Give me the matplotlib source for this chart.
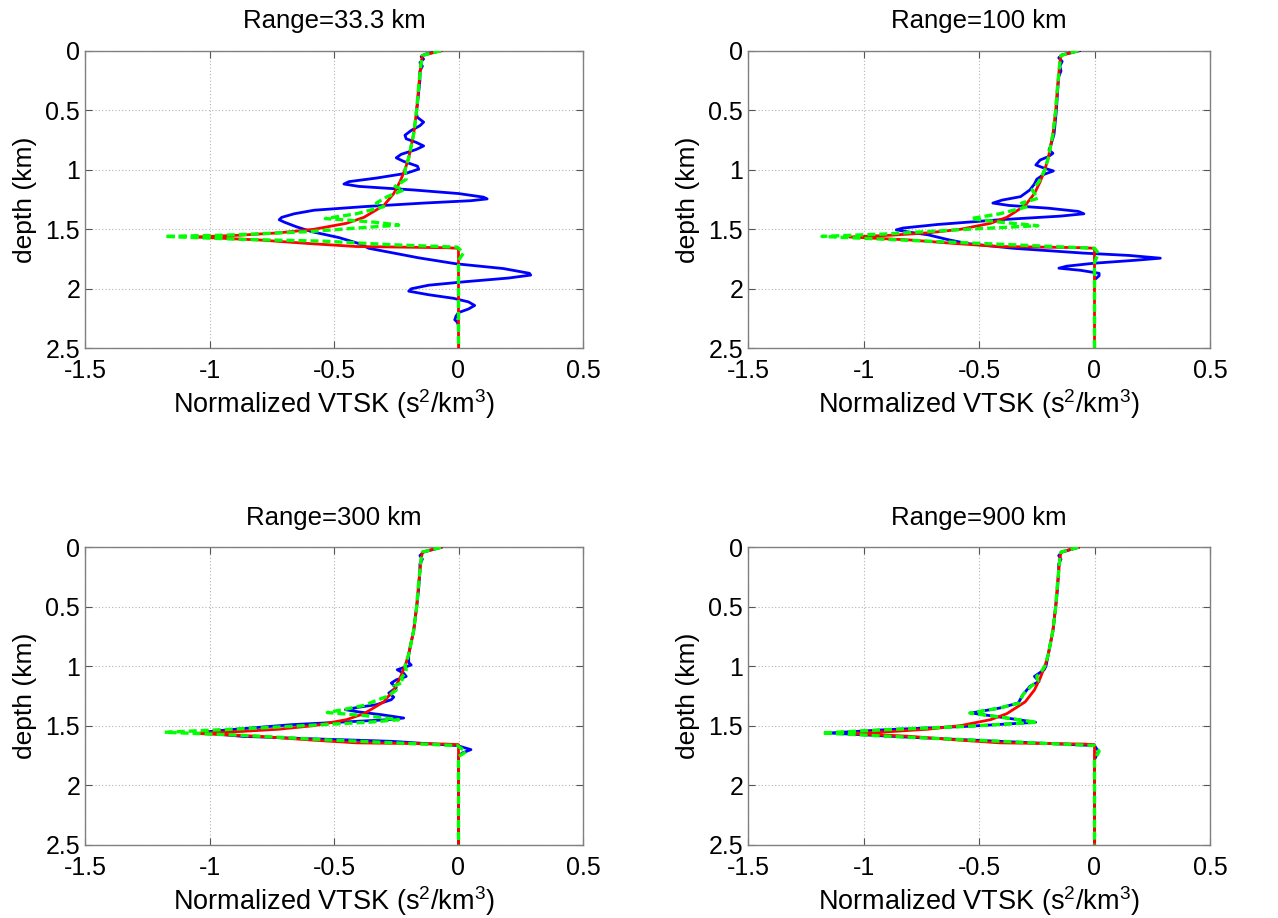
import matplotlib
matplotlib.use("Agg")
import matplotlib.pyplot as plt

plt.rcParams['font.family'] = ['Liberation Sans', 'DejaVu Sans']
plt.rcParams['mathtext.fontset'] = 'custom'
plt.rcParams['mathtext.rm'] = 'Liberation Sans'
plt.rcParams['mathtext.it'] = 'Liberation Sans'
plt.rcParams['axes.unicode_minus'] = False

# ---------------- data ----------------
titles = ["Range=33.3 km", "Range=100 km", "Range=300 km", "Range=900 km"]
x_ticks = [-1.5, -1, -0.5, 0, 0.5]
x_tick_labels = ["-1.5", "-1", "-0.5", "0", "0.5"]
y_ticks = [0, 0.5, 1, 1.5, 2, 2.5]
y_tick_labels = ["0", "0.5", "1", "1.5", "2", "2.5"]

# red (reference) kernel, same in every panel
red_depth = [0.00, 0.04, 0.10, 0.20, 0.30, 0.50, 0.70, 0.90, 1.00, 1.10, 1.20, 1.30,
             1.40, 1.45, 1.50, 1.53, 1.55, 1.565, 1.59, 1.62, 1.645, 1.655, 1.66, 2.50]
red_vtsk = [-0.07, -0.145, -0.15, -0.155, -0.16, -0.168, -0.18, -0.20, -0.215, -0.235, -0.26, -0.30,
            -0.38, -0.45, -0.58, -0.72, -0.88, -1.06, -0.80, -0.60, -0.41, -0.05, 0.0, 0.0]

# Range = 33.3 km
blue1_depth = [0.00, 0.03, 0.05, 0.07, 0.10, 0.13, 0.17, 0.25, 0.35, 0.45, 0.52, 0.56, 0.60, 0.63,
               0.67, 0.71, 0.74, 0.77, 0.80, 0.83, 0.87, 0.90, 0.93, 0.97, 0.995, 1.03, 1.07,
               1.10, 1.12, 1.14, 1.17, 1.20, 1.23, 1.245, 1.26, 1.28, 1.31, 1.34, 1.37, 1.40,
               1.42, 1.44, 1.48, 1.52, 1.57, 1.62, 1.66, 1.70, 1.74, 1.79, 1.83, 1.87, 1.885,
               1.91, 1.94, 1.97, 2.00, 2.02, 2.05, 2.08, 2.11, 2.14, 2.17, 2.20, 2.23, 2.26,
               2.28, 2.31]
blue1_vtsk = [-0.07, -0.135, -0.15, -0.14, -0.155, -0.145, -0.155, -0.155, -0.16, -0.165, -0.17,
              -0.165, -0.14, -0.155, -0.19, -0.215, -0.21, -0.17, -0.14, -0.17, -0.23, -0.25,
              -0.22, -0.165, -0.16, -0.21, -0.33, -0.44, -0.46, -0.40, -0.18, 0.0, 0.10, 0.115,
              0.05, -0.14, -0.38, -0.58, -0.66, -0.71, -0.72, -0.70, -0.65, -0.59, -0.48, -0.40,
              -0.36, -0.26, -0.16, -0.01, 0.18, 0.285, 0.29, 0.20, 0.03, -0.12, -0.19, -0.20,
              -0.12, -0.02, 0.04, 0.065, 0.04, 0.0, -0.01, -0.015, -0.005, 0.0]
green1_depth = [0.00, 0.04, 0.10, 0.20, 0.30, 0.50, 0.70, 0.90, 1.00, 1.08, 1.14, 1.17, 1.23,
                1.28, 1.31, 1.37, 1.41, 1.44, 1.465, 1.49, 1.52, 1.55, 1.56, 1.585, 1.60, 1.63,
                1.65, 1.70, 1.76, 2.50]
green1_vtsk = [-0.07, -0.145, -0.15, -0.155, -0.16, -0.168, -0.18, -0.20, -0.215, -0.21, -0.255,
               -0.22, -0.29, -0.33, -0.30, -0.41, -0.535, -0.34, -0.24, -0.41, -0.60, -0.94,
               -1.18, -0.87, -0.54, -0.27, -0.005, 0.02, 0.0, 0.0]

# Range = 100 km
blue2_depth = [0.00, 0.035, 0.06, 0.09, 0.13, 0.17, 0.22, 0.35, 0.50, 0.70, 0.80, 0.834, 0.862,
               0.89, 0.918, 0.96, 0.985, 1.01, 1.04, 1.08, 1.12, 1.17, 1.226, 1.255, 1.28,
               1.30, 1.323, 1.35, 1.37, 1.39, 1.42, 1.46, 1.49, 1.505, 1.525, 1.547, 1.589,
               1.62, 1.66, 1.70, 1.72, 1.743, 1.76, 1.785, 1.81, 1.827, 1.845, 1.87, 1.89,
               1.925, 1.96]
blue2_vtsk = [-0.065, -0.14, -0.155, -0.14, -0.15, -0.145, -0.155, -0.16, -0.165, -0.175, -0.19,
              -0.197, -0.18, -0.20, -0.235, -0.254, -0.22, -0.178, -0.22, -0.25, -0.26, -0.28,
              -0.32, -0.40, -0.44, -0.37, -0.20, -0.07, -0.046, -0.15, -0.41, -0.68, -0.83,
              -0.858, -0.80, -0.72, -0.63, -0.55, -0.35, -0.05, 0.15, 0.285, 0.18, 0.0, -0.12,
              -0.154, -0.06, 0.02, 0.02, 0.0, 0.0]
green2_depth = [0.00, 0.04, 0.10, 0.20, 0.30, 0.50, 0.70, 0.90, 1.00, 1.10, 1.17, 1.24, 1.28,
                1.31, 1.37, 1.41, 1.44, 1.47, 1.50, 1.54, 1.56, 1.59, 1.62, 1.66, 1.70, 1.78,
                2.50]
green2_vtsk = [-0.07, -0.145, -0.15, -0.155, -0.16, -0.168, -0.18, -0.20, -0.215, -0.24, -0.27,
               -0.245, -0.316, -0.29, -0.41, -0.535, -0.41, -0.245, -0.55, -0.91, -1.18, -0.84,
               -0.48, 0.0, 0.017, 0.0, 0.0]

# Range = 300 km
blue3_depth = [0.00, 0.04, 0.07, 0.10, 0.14, 0.20, 0.35, 0.50, 0.70, 0.90, 0.97, 0.99, 1.03,
               1.06, 1.086, 1.115, 1.142, 1.18, 1.226, 1.26, 1.282, 1.324, 1.345, 1.366, 1.385,
               1.408, 1.436, 1.45, 1.464, 1.492, 1.534, 1.555, 1.575, 1.59, 1.61, 1.632, 1.668,
               1.702, 1.73, 1.758, 2.50]
blue3_vtsk = [-0.07, -0.14, -0.155, -0.145, -0.155, -0.155, -0.16, -0.168, -0.18, -0.20, -0.20,
              -0.19, -0.246, -0.22, -0.21, -0.25, -0.27, -0.25, -0.28, -0.26, -0.27, -0.33,
              -0.40, -0.454, -0.40, -0.31, -0.22, -0.28, -0.41, -0.67, -0.915, -1.03, -0.95,
              -0.87, -0.60, -0.27, -0.005, 0.05, 0.015, 0.0, 0.0]
green3_depth = [0.00, 0.04, 0.10, 0.20, 0.30, 0.50, 0.70, 0.90, 1.00, 1.03, 1.06, 1.10, 1.13,
                1.17, 1.20, 1.25, 1.28, 1.33, 1.36, 1.39, 1.415, 1.45, 1.47, 1.49, 1.52, 1.556,
                1.58, 1.62, 1.668, 1.72, 1.76, 2.50]
green3_vtsk = [-0.07, -0.145, -0.15, -0.155, -0.16, -0.168, -0.18, -0.20, -0.215, -0.21, -0.215,
               -0.23, -0.22, -0.26, -0.25, -0.28, -0.32, -0.38, -0.45, -0.527, -0.38, -0.24,
               -0.35, -0.53, -0.80, -1.18, -0.88, -0.53, -0.005, 0.03, 0.0, 0.0]

# Range = 900 km
blue4_depth = [0.00, 0.04, 0.07, 0.10, 0.14, 0.20, 0.35, 0.50, 0.70, 0.90, 1.00, 1.03, 1.086,
               1.128, 1.17, 1.24, 1.31, 1.352, 1.394, 1.436, 1.472, 1.506, 1.534, 1.562, 1.596,
               1.632, 1.668, 1.716, 1.786, 2.50]
blue4_vtsk = [-0.07, -0.14, -0.155, -0.145, -0.155, -0.155, -0.16, -0.168, -0.18, -0.20, -0.21,
              -0.218, -0.26, -0.24, -0.28, -0.31, -0.33, -0.41, -0.534, -0.38, -0.255, -0.55,
              -0.90, -1.15, -0.82, -0.41, 0.0, 0.017, 0.0, 0.0]
green4_depth = [0.00, 0.04, 0.10, 0.20, 0.30, 0.50, 0.70, 0.90, 1.00, 1.03, 1.086, 1.128, 1.17,
                1.24, 1.31, 1.352, 1.394, 1.436, 1.472, 1.506, 1.534, 1.562, 1.596, 1.632,
                1.668, 1.716, 1.786, 2.50]
green4_vtsk = [-0.07, -0.145, -0.15, -0.155, -0.16, -0.168, -0.18, -0.20, -0.215, -0.225, -0.25,
               -0.245, -0.275, -0.31, -0.325, -0.41, -0.54, -0.38, -0.25, -0.55, -0.90, -1.18,
               -0.82, -0.41, 0.0, 0.02, 0.0, 0.0]

blue_sets = [(blue1_vtsk, blue1_depth), (blue2_vtsk, blue2_depth),
             (blue3_vtsk, blue3_depth), (blue4_vtsk, blue4_depth)]
green_sets = [(green1_vtsk, green1_depth), (green2_vtsk, green2_depth),
              (green3_vtsk, green3_depth), (green4_vtsk, green4_depth)]

# ---------------- figure ----------------
W, H = 1278, 918
fig = plt.figure(figsize=(W / 100, H / 100), dpi=100)

# axes boxes in pixels: left, top, right, bottom
boxes = [(85, 50.7, 583, 348.3), (748, 50.7, 1210, 348.3),
         (85, 547.3, 583, 844.5), (748, 547.3, 1210, 844.5)]

frame_col = '#808080'
for i, (l, t, r, b) in enumerate(boxes):
    ax = fig.add_axes([l / W, 1 - b / H, (r - l) / W, (b - t) / H])
    bx, by = blue_sets[i]
    gx, gy = green_sets[i]
    ax.plot(bx, by, color='#0000ff', lw=2.0, zorder=3)
    ax.plot(red_vtsk, red_depth, color='#ff0000', lw=2.0, zorder=4)
    ax.plot(gx, gy, color='#00ff00', lw=2.4, linestyle=(0, (2.4, 1.2)), zorder=5)

    ax.set_xlim(-1.5, 0.5)
    ax.set_ylim(2.5, 0)
    ax.set_xticks(x_ticks)
    ax.set_xticklabels(x_tick_labels)
    ax.set_yticks(y_ticks)
    ax.set_yticklabels(y_tick_labels)
    ax.grid(True, linestyle=(0, (1, 2)), color='#b4b4b4', lw=0.8)
    ax.tick_params(direction='in', top=True, right=True, length=5, width=0.8,
                   color='#555555', labelsize=18, labelcolor='black')
    ax.tick_params(axis='x', pad=8)
    ax.tick_params(axis='y', pad=3.5)
    for s in ax.spines.values():
        s.set_color(frame_col)
        s.set_linewidth(1.0)
    ax.set_title(titles[i], fontsize=18.5, pad=16)
    ax.set_xlabel(r'Normalized VTSK (s$^{2}$/km$^{3}$)', fontsize=19.5, labelpad=3)
    ax.set_ylabel('depth (km)', fontsize=19, labelpad=6)

fig.savefig('out.png', dpi=100)
